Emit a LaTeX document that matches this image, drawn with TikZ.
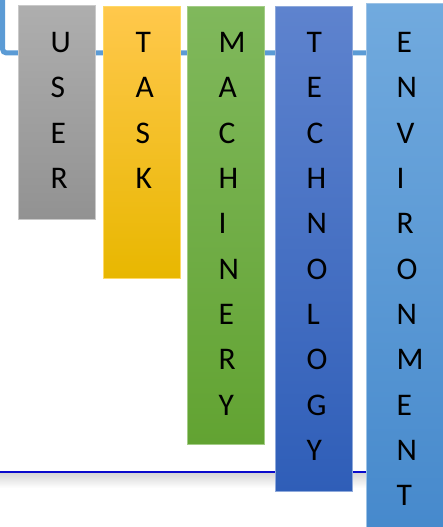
\documentclass[tikz,border=0pt]{standalone}
\usepackage{fontspec}
\setmainfont{Carlito}
\definecolor{connblue}{HTML}{5B9BD5}
\definecolor{baseblue}{HTML}{0A0ACC}
\definecolor{userT}{HTML}{AEAEAE}\definecolor{userB}{HTML}{929292}\definecolor{userE}{HTML}{C9C9C9}
\definecolor{taskT}{HTML}{FFC84C}\definecolor{taskB}{HTML}{E8B700}\definecolor{taskE}{HTML}{FFD966}
\definecolor{machT}{HTML}{80B85C}\definecolor{machB}{HTML}{62A332}\definecolor{machE}{HTML}{A3CC86}
\definecolor{techT}{HTML}{5E83CE}\definecolor{techB}{HTML}{2F5EB8}\definecolor{techE}{HTML}{8EA9DB}
\definecolor{envT}{HTML}{71AADE}\definecolor{envB}{HTML}{4689CC}\definecolor{envE}{HTML}{9DC3E6}
\begin{document}
\begin{tikzpicture}[x=1pt,y=-1pt,
  barbox/.style n args={3}{rectangle, anchor=north west, inner sep=0pt,
    minimum width=77pt, top color=#1, bottom color=#2, draw=#3, line width=0.8pt},
  letter/.style={anchor=base west, inner sep=0pt, font=\fontsize{31.5}{36}\selectfont, text=black}]
\useasboundingbox (0,0) rectangle (442,527);
% top connector
\draw[connblue, line width=5pt, rounded corners=4pt] (2.5,-3) |- (446,53);
% bottom line with shadow
\shade[top color=black!16, bottom color=white] (0,473) rectangle (442,488);
\draw[baseblue, line width=2.6pt] (0,471.8) -- (442,471.8);
% bars
\node[barbox={userT}{userB}{userE}, minimum height=214pt] (user) at (18,5) {};
\node[barbox={taskT}{taskB}{taskE}, minimum height=272pt] (task) at (103,6) {};
\node[barbox={machT}{machB}{machE}, minimum height=438pt] (mach) at (187,6) {};
\node[barbox={techT}{techB}{techE}, minimum height=485pt] (tech) at (275,6) {};
\node[barbox={envT}{envB}{envE}, minimum height=530pt, minimum width=82pt] (env) at (366,3) {};
% letters
\foreach \l [count=\i from 0] in {U,S,E,R}
  \node[letter] (user-\i) at (50.5,52.6+45.3*\i) {\l};
\foreach \l [count=\i from 0] in {T,A,S,K}
  \node[letter] (task-\i) at (135.5,52.6+45.3*\i) {\l};
\foreach \l [count=\i from 0] in {M,A,C,H,I,N,E,R,Y}
  \node[letter] (mach-\i) at (218.5,52.6+45.3*\i) {\l};
\foreach \l [count=\i from 0] in {T,E,C,H,N,O,L,O,G,Y}
  \node[letter] (tech-\i) at (306.5,52.6+45.3*\i) {\l};
\foreach \l [count=\i from 0] in {E,N,V,I,R,O,N,M,E,N,T}
  \node[letter] (env-\i) at (396.5,52.6+45.3*\i) {\l};
\end{tikzpicture}
\end{document}
